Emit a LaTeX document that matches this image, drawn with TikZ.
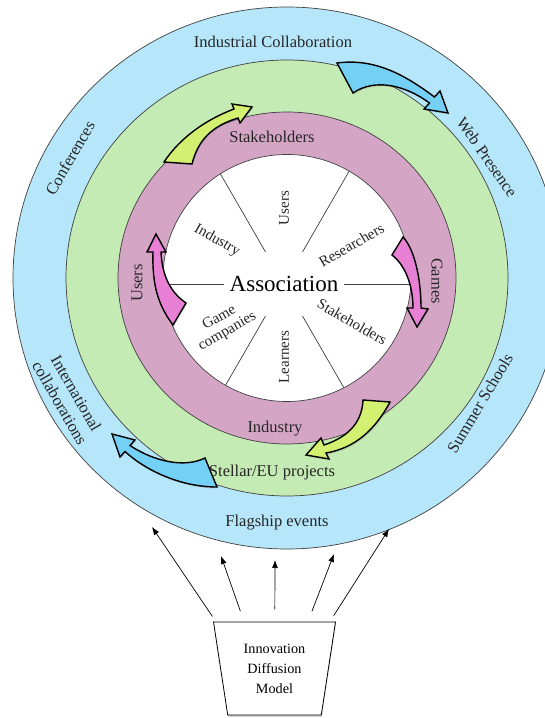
\documentclass[tikz,border=0pt]{standalone}
\usepackage{fontspec}
\setmainfont{Liberation Serif}
\usetikzlibrary{arrows.meta,shapes.geometric,shadows}

\definecolor{ringblue}{RGB}{182,230,249}
\definecolor{ringgreen}{RGB}{197,235,180}
\definecolor{ringpink}{RGB}{213,165,198}
\definecolor{arrblue}{RGB}{116,208,245}
\definecolor{arrgreen}{RGB}{212,240,112}
\definecolor{arrpink}{RGB}{232,128,214}

\tikzset{
  ring/.style={draw=black!75, line width=0.7pt},
  spoke/.style={draw=black!75, line width=0.7pt},
  bigarrow/.style={draw=black, line width=1.4pt,
    drop shadow={opacity=0.25, shadow xshift=1pt, shadow yshift=-1.5pt}},
  ringlabel/.style={font=\fontsize{16.5}{19}\selectfont, text=black!85},
  sectorlabel/.style={font=\fontsize{15}{17}\selectfont, align=center, text=black!85},
  fanarrow/.style={-{Latex[length=8pt,width=6pt]}, line width=0.7pt},
}

\begin{document}
\begin{tikzpicture}[x=1pt,y=1pt]
\useasboundingbox (0,0) rectangle (545,718);
\clip (0,0) rectangle (545,718);

% rings, outside in
\coordinate (c) at (287,440);
\filldraw[ring, fill=ringblue]  (c) ellipse [x radius=274pt, y radius=271pt];
\filldraw[ring, fill=ringgreen] (c) ellipse [x radius=221pt, y radius=218pt];
\filldraw[ring, fill=ringpink]  (c) ellipse [x radius=169pt, y radius=166pt];
\filldraw[ring, fill=white]     (c) ellipse [x radius=124pt, y radius=123.5pt];

% sectors of the inner disc
\coordinate (hub) at (284,434);
\begin{scope}
  \clip (c) ellipse [x radius=124pt, y radius=123.5pt];
  \foreach \a in {60,120,240,300}
    \draw[spoke] (hub) ++(\a:37) -- ++(\a:120);
  \foreach \a in {0,180}
    \draw[spoke] (hub) ++(\a:60) -- ++(\a:100);
\end{scope}

\node[font=\fontsize{23}{26}\selectfont] (assoc) at (hub) {Association};
\node[sectorlabel, rotate=90]  (sUsers) at ([shift={(90:76)}]hub)  {Users};
\node[sectorlabel, rotate=30]  (sRes)   at ([shift={(30:78)}]hub)  {Researchers};
\node[sectorlabel, rotate=-30] (sInd)   at ([shift={(147:80)}]hub) {Industry};
\node[sectorlabel, rotate=30, font=\fontsize{15}{16}\selectfont]
                               (sGame)  at ([shift={(214:73)}]hub) {Game\\companies};
\node[sectorlabel, rotate=90]  (sLearn) at ([shift={(270:73)}]hub) {Learners};
\node[sectorlabel, rotate=-30] (sStake) at ([shift={(331:78)}]hub) {Stakeholders};

% pink ring
\node[ringlabel] (pStake) at (272,581) {Stakeholders};
\node[ringlabel] (pInd)   at (275,289) {Industry};
\node[ringlabel, rotate=90]  (pUsers) at (137,435) {Users};
\node[ringlabel, rotate=-90] (pGames) at (437,437) {Games};

% green ring
\node[ringlabel] (gEU) at (272,245) {Stellar/EU projects};

% blue ring
\node[ringlabel] (bInd)   at (273,676) {Industrial Collaboration};
\node[ringlabel] (bFlag)  at (277,195) {Flagship events};
\node[ringlabel, rotate=60]  (bConf) at (70,560)  {Conferences};
\node[ringlabel, rotate=-55] (bWeb)  at (487,561) {Web Presence};
\node[ringlabel, rotate=59]  (bSum)  at (480,315) {Summer Schools};
\node[ringlabel, rotate=-60, align=center, font=\fontsize{16.5}{19}\selectfont]
                             (bIntl) at (68,320)  {International\\collaborations};

% curved block arrows
\draw[bigarrow, fill=arrblue] (337,655) .. controls (375,660) and (405,643) .. (434.5,621)
  -- (440,627) -- (448,605) -- (424,609) -- (429.5,615)
  .. controls (405,633) and (375,640) .. (353,625) -- cycle;
\draw[bigarrow, fill=arrgreen] (164,556) .. controls (180,580) and (205,598) .. (234,609)
  -- (232,614) -- (252,611) -- (240,595) -- (238,600)
  .. controls (212,592) and (198,578) .. (192,554) -- cycle;
\draw[bigarrow, fill=arrpink] (173,393) .. controls (158,413) and (152,433) .. (153,466)
  -- (147,466) -- (156,484) -- (166,466) -- (161,466)
  .. controls (162,443) and (170,426) .. (186,415) -- cycle;
\draw[bigarrow, fill=arrpink] (392,463) .. controls (405,453) and (413,433) .. (413,410)
  -- (407,410) -- (417,391) -- (428,409) -- (421,410)
  .. controls (421,438) and (415,468) .. (403,481) -- cycle;
\draw[bigarrow, fill=arrgreen] (363,318) .. controls (362,293) and (345,280) .. (324,273)
  -- (321,280) -- (306,263) -- (329,259) -- (326,265)
  .. controls (355,270) and (375,288) .. (390,316) -- cycle;
\draw[bigarrow, fill=arrblue] (205,260) .. controls (185,250) and (155,256) .. (130,272.5)
  -- (135,278) -- (112,284) -- (120,261) -- (125,266.5)
  .. controls (145,248) and (180,231) .. (217,231) -- cycle;

% model at the bottom
\node[trapezium, draw, line width=0.8pt, fill=white, shape border rotate=180,
      trapezium angle=75.8, trapezium stretches body, minimum width=122pt,
      minimum height=93pt, align=center, font=\fontsize{14.2}{20}\selectfont,
      drop shadow={opacity=0.3, shadow xshift=0.5pt, shadow yshift=-2pt}]
      (idm) at (274.5,49.5) {Innovation\\Diffusion\\Model};

\coordinate (f) at ([yshift=7pt]idm.south);
\coordinate (t1) at (152,191);
\coordinate (t2) at (221,162);
\coordinate (t3) at (275,158);
\coordinate (t4) at (334,164);
\coordinate (t5) at (389,189);
\foreach \t/\s in {t1/111pt,t2/103pt,t3/99pt,t4/104pt,t5/110pt}
  \draw[fanarrow, shorten <=\s] (f) -- (\t);
\end{tikzpicture}
\end{document}
